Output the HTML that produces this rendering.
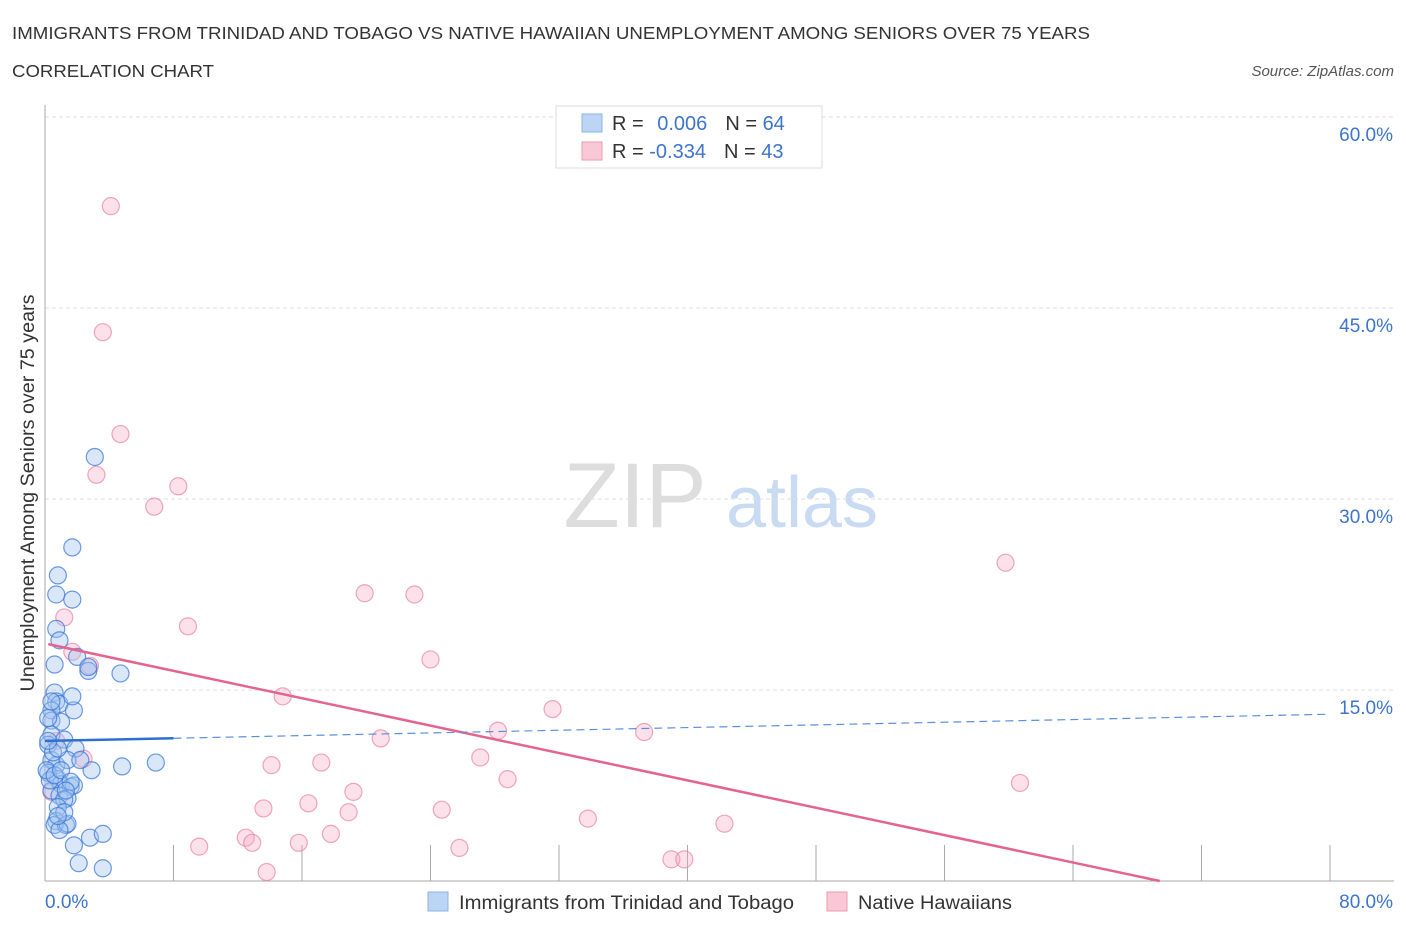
<!DOCTYPE html>
<html><head><meta charset="utf-8"><style>
body{margin:0;background:#fff;font-family:"Liberation Sans",sans-serif;}
svg text{font-family:"Liberation Sans",sans-serif;}
</style></head><body>
<svg id="chart" width="1406" height="930" xmlns="http://www.w3.org/2000/svg">
<text x="12" y="39" font-size="17.5" fill="#333" textLength="1078" lengthAdjust="spacingAndGlyphs">IMMIGRANTS FROM TRINIDAD AND TOBAGO VS NATIVE HAWAIIAN UNEMPLOYMENT AMONG SENIORS OVER 75 YEARS</text>
<text x="12" y="77" font-size="17.5" fill="#333" textLength="202" lengthAdjust="spacingAndGlyphs">CORRELATION CHART</text>
<text x="1394" y="76" font-size="15" fill="#555" font-style="italic" text-anchor="end">Source: ZipAtlas.com</text>
<text x="34" y="493" font-size="19" fill="#333" text-anchor="middle" textLength="397" lengthAdjust="spacingAndGlyphs" transform="rotate(-90 34 493)">Unemployment Among Seniors over 75 years</text>
<g><text x="635" y="527" font-size="92" fill="#ddd" font-family="Liberation Serif,serif" text-anchor="middle">ZIP</text><text x="802" y="527" font-size="72" fill="#c9dbf2" text-anchor="middle">atlas</text></g>
<g id="grid"></g><g id="axes"></g><g id="pts"></g><g id="trend"></g>
<g>
<rect x="556" y="106" width="266" height="62" fill="#fff" stroke="#ddd"/>
<rect x="582" y="114" width="20" height="18" fill="#bcd5f5" stroke="#8ab3e8"/>
<rect x="582" y="142" width="20" height="18" fill="#f9c8d6" stroke="#ec9ab2"/>
<text x="612" y="130" font-size="20" fill="#333">R = <tspan fill="#3d74cc" dx="8">0.006</tspan><tspan dx="18" fill="#333">N = </tspan><tspan fill="#3d74cc">64</tspan></text>
<text x="612" y="158" font-size="20" fill="#333">R = <tspan fill="#3d74cc">-0.334</tspan><tspan dx="18" fill="#333">N = </tspan><tspan fill="#3d74cc">43</tspan></text>
</g>
<g>
<rect x="428" y="892" width="20" height="19" fill="#bcd5f5" stroke="#8ab3e8"/>
<text x="459" y="909" font-size="19" fill="#333" textLength="335" lengthAdjust="spacingAndGlyphs">Immigrants from Trinidad and Tobago</text>
<rect x="827" y="892" width="20" height="19" fill="#f9c8d6" stroke="#ec9ab2"/>
<text x="858" y="909" font-size="19" fill="#333" textLength="154" lengthAdjust="spacingAndGlyphs">Native Hawaiians</text>
</g>
</svg>
<script>
const blueX=[3.1,1.7,0.8,0.7,1.7,0.7,0.9,0.6,2.0,2.7,4.7,2.7,0.6,0.7,0.9,1.8,0.4,0.4,1.0,0.4,1.2,1.9,0.2,0.4,0.7,1.4,2.9,4.8,6.9,0.2,0.8,1.0,1.6,1.8,0.4,0.9,1.4,1.2,0.8,0.7,0.6,1.3,1.4,1.8,2.8,3.6,2.1,3.6,0.2,0.3,0.1,0.6,1.0,1.6,1.3,0.5,0.8,2.2,0.9,0.2,0.4,1.7,1.2,0.8];
const blueY=[33.3,26.2,24.0,22.5,22.1,19.8,18.9,17.0,17.6,16.5,16.3,16.8,14.8,14.1,13.9,13.4,13.4,12.6,12.5,11.5,11.1,10.4,10.7,9.5,9.1,9.5,8.7,9.0,9.3,8.5,8.0,7.6,7.4,7.5,7.1,6.7,6.5,6.4,5.8,4.7,4.4,4.4,4.5,2.8,3.4,3.7,1.4,1.0,12.8,7.9,8.7,8.3,8.7,7.8,7.1,10.1,10.4,9.5,4.0,11.0,14.1,14.5,5.4,5.1];
const pinkX=[4.1,3.6,4.7,3.2,8.3,6.8,59.8,19.9,23.0,1.2,8.9,24.0,1.7,2.8,14.8,31.6,28.2,37.3,20.9,27.1,2.4,14.1,17.2,28.8,60.7,19.2,16.4,13.6,24.7,18.9,33.8,42.3,17.8,12.5,12.9,15.8,9.6,25.8,39.0,39.8,13.8,0.4,0.7];
const pinkY=[53.0,43.1,35.1,31.9,31.0,29.4,25.0,22.6,22.5,20.7,20.0,17.4,18.0,16.9,14.5,13.5,11.8,11.7,11.2,9.7,9.6,9.1,9.3,8.0,7.7,7.0,6.1,5.7,5.6,5.4,4.9,4.5,3.7,3.4,3.0,3.0,2.7,2.6,1.7,1.7,0.7,7.0,11.0];
const yTicks=[15,30,45,60];
const yTickLabels=["15.0%","30.0%","45.0%","60.0%"];
const pinkTrend=[0.2,18.6,69.4,0];
const blueTrend=[0,11.0,80,13.1];
const ns="http://www.w3.org/2000/svg";
const X=v=>45+v/80*1285, Y=v=>881-v/15*191;
function mk(t,a,p){const e=document.createElementNS(ns,t);for(const k in a)e.setAttribute(k,a[k]);p.appendChild(e);return e;}
const grid=document.getElementById('grid'),axes=document.getElementById('axes'),pts=document.getElementById('pts'),tr=document.getElementById('trend');
yTicks.forEach((v,i)=>{
 const l=mk('line',{x1:45,x2:1394,y1:Y(v),y2:Y(v),stroke:'#ddd','stroke-dasharray':'4,3'},grid);
 
 
 const t=mk('text',{x:1393,y:Y(v)+24,'font-size':19,fill:'#3d74cc','text-anchor':'end'},axes);
 t.textContent=yTickLabels[i];
 
 
});
let a=mk('line',{x1:45,x2:45,y1:105,y2:881,stroke:'#aaa'},axes);


a=mk('line',{x1:45,x2:1394,y1:881,y2:881,stroke:'#aaa'},axes);


for(let i=1;i<=10;i++){const l=mk('line',{x1:X(i*8),x2:X(i*8),y1:845,y2:881,stroke:'#aaa'},axes);
 
 }
let t=mk('text',{x:45,y:908,'font-size':19,fill:'#3d74cc'},axes);t.textContent='0.0%';


t=mk('text',{x:1393,y:908,'font-size':19,fill:'#3d74cc','text-anchor':'end'},axes);t.textContent='80.0%';


pinkX.forEach((x,i)=>{const c=mk('circle',{cx:X(x),cy:Y(pinkY[i]),r:8.5,fill:'rgba(246,170,195,0.35)',stroke:'rgba(232,130,162,0.7)','stroke-width':1.2},pts);
 
 });
blueX.forEach((x,i)=>{const c=mk('circle',{cx:X(x),cy:Y(blueY[i]),r:8.5,fill:'rgba(160,195,240,0.4)',stroke:'rgba(60,120,215,0.75)','stroke-width':1.2},pts);
 
 });
let l=mk('line',{x1:X(pinkTrend[0]),y1:Y(pinkTrend[1]),x2:X(pinkTrend[2]),y2:Y(pinkTrend[3]),stroke:'#e4638f','stroke-width':2.5},tr);


const by=x=>blueTrend[1]+(blueTrend[3]-blueTrend[1])*x/80;
l=mk('line',{x1:X(0),y1:Y(by(0)),x2:X(8),y2:Y(by(8)),stroke:'#2f6fd0','stroke-width':2.5},tr);


l=mk('line',{x1:X(8),y1:Y(by(8)),x2:X(80),y2:Y(by(80)),stroke:'#5b8fdc','stroke-width':1.2,'stroke-dasharray':'8,5'},tr);


</script>
</body></html>
